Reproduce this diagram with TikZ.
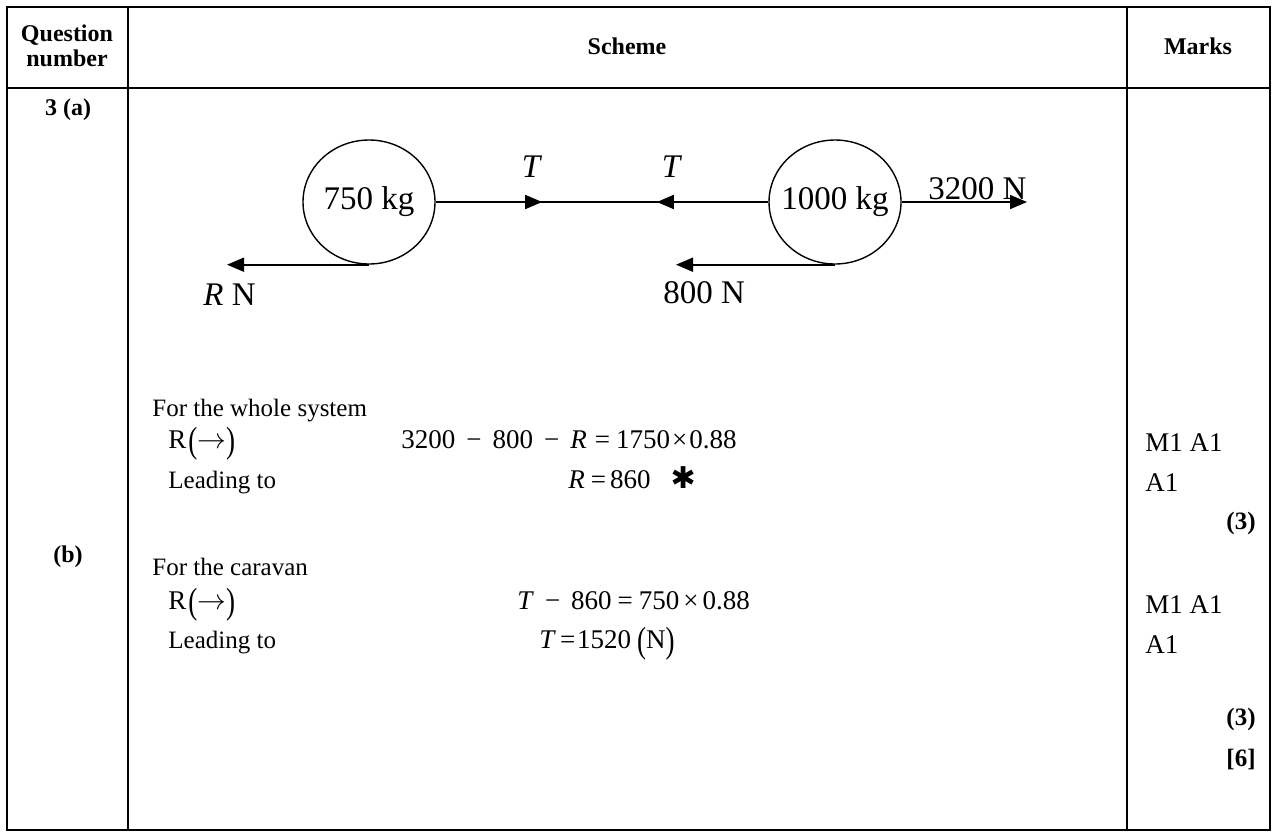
\documentclass[tikz,border=0pt]{standalone}
\usepackage{fontspec}
\usepackage{graphicx}
\setmainfont{Liberation Serif}
\newfontfamily\symfont{DejaVu Sans}
\usetikzlibrary{arrows.meta,shapes.geometric,decorations.markings}
\newcommand\tallpar[1]{\raisebox{-0.17em}{\scalebox{1}[1.35]{(}}#1\raisebox{-0.17em}{\scalebox{1}[1.35]{)}}}
\newcommand\gp{\hspace{5.5pt}}
\begin{document}
\begin{tikzpicture}[x=0.5pt,y=-0.5pt,
  grid/.style={line width=1.3pt},
  body/.style={font=\fontsize{12.5}{14}\selectfont, inner sep=0pt},
  eqn/.style={font=\fontsize{13.5}{15}\selectfont, inner sep=0pt},
  head/.style={font=\fontsize{12}{12.5}\selectfont\bfseries, inner sep=0pt, align=center},
  mk/.style={font=\fontsize{13.5}{15}\selectfont, inner sep=0pt, anchor=base west},
  tot/.style={font=\fontsize{12.5}{14}\selectfont\bfseries, inner sep=0pt, anchor=base east},
  mass/.style={draw, ellipse, line width=0.7pt, minimum width=66pt, minimum height=62pt, inner sep=0pt},
  force/.style={line width=0.9pt, -{Triangle[length=8.5pt,width=7pt]}},
  lab/.style={font=\fontsize{16.5}{18}\selectfont, inner sep=0pt},
]
\useasboundingbox (0,0) rectangle (1277,836);
\fill[white] (0,0) rectangle (1277,836);
% table
\draw[grid] (7,7) rectangle (1270,830);
\draw[grid] (7,88) -- (1270,88);
\draw[grid] (128,7) -- (128,830);
\draw[grid] (1127,7) -- (1127,830);
% headers
\node[head] (qn) at (67,46) {Question\\number};
\node[head] (sch) at (627,46) {Scheme};
\node[head] (mkh) at (1198,46) {Marks};
\node[head, anchor=base] (q3a) at (68,115) {3 (a)};
\node[head, anchor=base] (qb) at (68,562) {(b)};
% diagram
\node[mass, label={[lab]center:750 kg}] (m1) at (369,202) {};
\node[mass, label={[lab]center:1000 kg}] (m2) at (835,202) {};
\draw[line width=0.9pt, decoration={markings,
   mark=at position 0.32 with {\arrow{Triangle[length=8.5pt,width=7pt]}},
   mark=at position 0.665 with {\arrowreversed{Triangle[length=8.5pt,width=7pt]}}},
   postaction=decorate] (m1.east) -- (m2.west);
\coordinate (rEnd) at (227,264);
\draw[force] (m1.south) -- (m1.south -| rEnd);
\coordinate (fEnd) at (1027,202);
\draw[force] (m2.east) -- (fEnd);
\coordinate (frEnd) at (676,264);
\draw[force] (m2.south) -- (m2.south -| frEnd);
\node[lab] (t1) at (532,167) {\textit{T}};
\node[lab] (t2) at (672,167) {\textit{T}};
\node[lab, anchor=west] (rn) at (203,295) {\textit{R} N};
\node[lab, anchor=base west] (f3200) at (928,199) {3200 N};
\node[lab, anchor=west] (f800) at (663,293) {800 N};
% part (a)
\node[body, anchor=base west] (w1) at (152,416) {For the whole system};
\node[eqn, anchor=base west] (ra) at (168,448) {R\hspace{1pt}\tallpar{$\rightarrow$}};
\node[eqn, anchor=base west] (ea) at (401,448) {3200\gp−\gp800\gp−\gp\textit{R}\hspace{4pt}=\hspace{3pt}1750\hspace{1pt}×\hspace{1pt}0.88};
\node[body, anchor=base west] (la) at (168,488) {Leading to};
\node[eqn, anchor=base west] (sa) at (568,488) {\textit{R}\hspace{3pt}=\hspace{2pt}860\hspace{10pt}{\symfont\bfseries\fontsize{15}{15}\selectfont ✱}};
\node[mk] (ma1) at (1145,451) {M1 A1};
\node[mk] (ma2) at (1145,491) {A1};
\node[tot] (ma3) at (1256,529) {(3)};
% part (b)
\node[body, anchor=base west] (w2) at (152,575) {For the caravan};
\node[eqn, anchor=base west] (rb) at (168,609) {R\hspace{1pt}\tallpar{$\rightarrow$}};
\node[eqn, anchor=base west] (eb) at (517,609) {\textit{T}\gp−\gp860\hspace{3pt}=\hspace{3pt}750\hspace{2pt}×\hspace{2pt}0.88};
\node[body, anchor=base west] (lb) at (168,648) {Leading to};
\node[eqn, anchor=base west] (sb) at (539,648) {\textit{T}\hspace{2pt}=\hspace{1pt}1520\hspace{3pt}\tallpar{N}};
\node[mk] (mb1) at (1145,613) {M1 A1};
\node[mk] (mb2) at (1145,653) {A1};
\node[tot] (mb3) at (1256,725) {(3)};
\node[tot] (tt) at (1256,766) {[6]};
\end{tikzpicture}
\end{document}
